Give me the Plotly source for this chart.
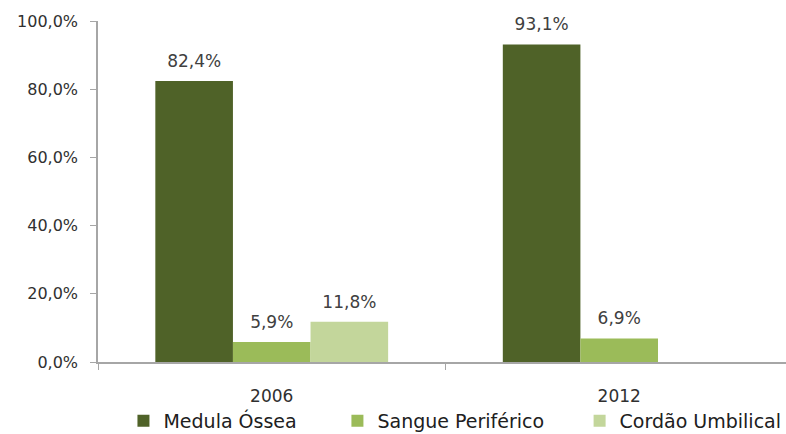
import plotly.graph_objects as go

categories = ["2006", "2012"]
series_names = ["Medula Óssea", "Sangue Periférico", "Cordão Umbilical"]
medula = [82.4, 93.1]
sangue = [5.9, 6.9]
cordao = [11.8, None]
colors = ["#4F6228", "#9BBB59", "#C3D69B"]
y_ticks = [0, 20, 40, 60, 80, 100]
y_ticktext = [f"{v:.1f}%".replace(".", ",") for v in y_ticks]

FONT = "DejaVu Sans"
legend_names = ["legend", "legend2", "legend3"]
legend_x = [0.037, 0.348, 0.700]

fig = go.Figure()
for name, vals, col, lg in zip(series_names, [medula, sangue, cordao], colors, legend_names):
    fig.add_trace(go.Bar(
        x=categories, y=vals, name=name, marker_color=col,
        marker_line_width=0, legend=lg,
        texttemplate="<span style='font-size:17px'>%{y:.1f}%</span><br>\u00a0",
        textposition="outside",
        textfont=dict(size=7, color="#404040", family=FONT),
        cliponaxis=False,
    ))

legend_common = dict(orientation="h", y=-0.117, yanchor="top", xanchor="left",
                     font=dict(size=19, color="#202020", family=FONT),
                     itemwidth=30, bgcolor="rgba(0,0,0,0)")
layout_legends = {}
for lg, lx in zip(legend_names, legend_x):
    layout_legends[lg] = dict(legend_common, x=lx)

fig.update_layout(
    width=786, height=434,
    margin=dict(l=98, r=0, t=21, b=72, autoexpand=False),
    paper_bgcolor="white", plot_bgcolor="white",
    barmode="group", bargap=0.33, bargroupgap=0,
    separators=",.",
    font=dict(family=FONT, color="#404040", size=15),
    showlegend=True,
    **layout_legends,
)
fig.update_xaxes(
    range=[-0.5, 1.48],
    showline=True, linecolor="#A6A6A6", linewidth=1.5,
    ticks="outside", tickson="boundaries", ticklen=6, tickcolor="#A6A6A6",
    ticklabelstandoff=18,
    tickfont=dict(size=17, color="#303030", family=FONT),
)
fig.update_yaxes(
    range=[0, 100], tickvals=y_ticks, ticktext=y_ticktext,
    showline=True, linecolor="#A6A6A6", linewidth=1.5,
    ticks="outside", ticklen=6, tickcolor="#A6A6A6",
    ticklabelstandoff=9,
    showgrid=False, zeroline=False,
    tickfont=dict(size=16, color="#303030", family=FONT),
)
fig.write_html("out.html")
